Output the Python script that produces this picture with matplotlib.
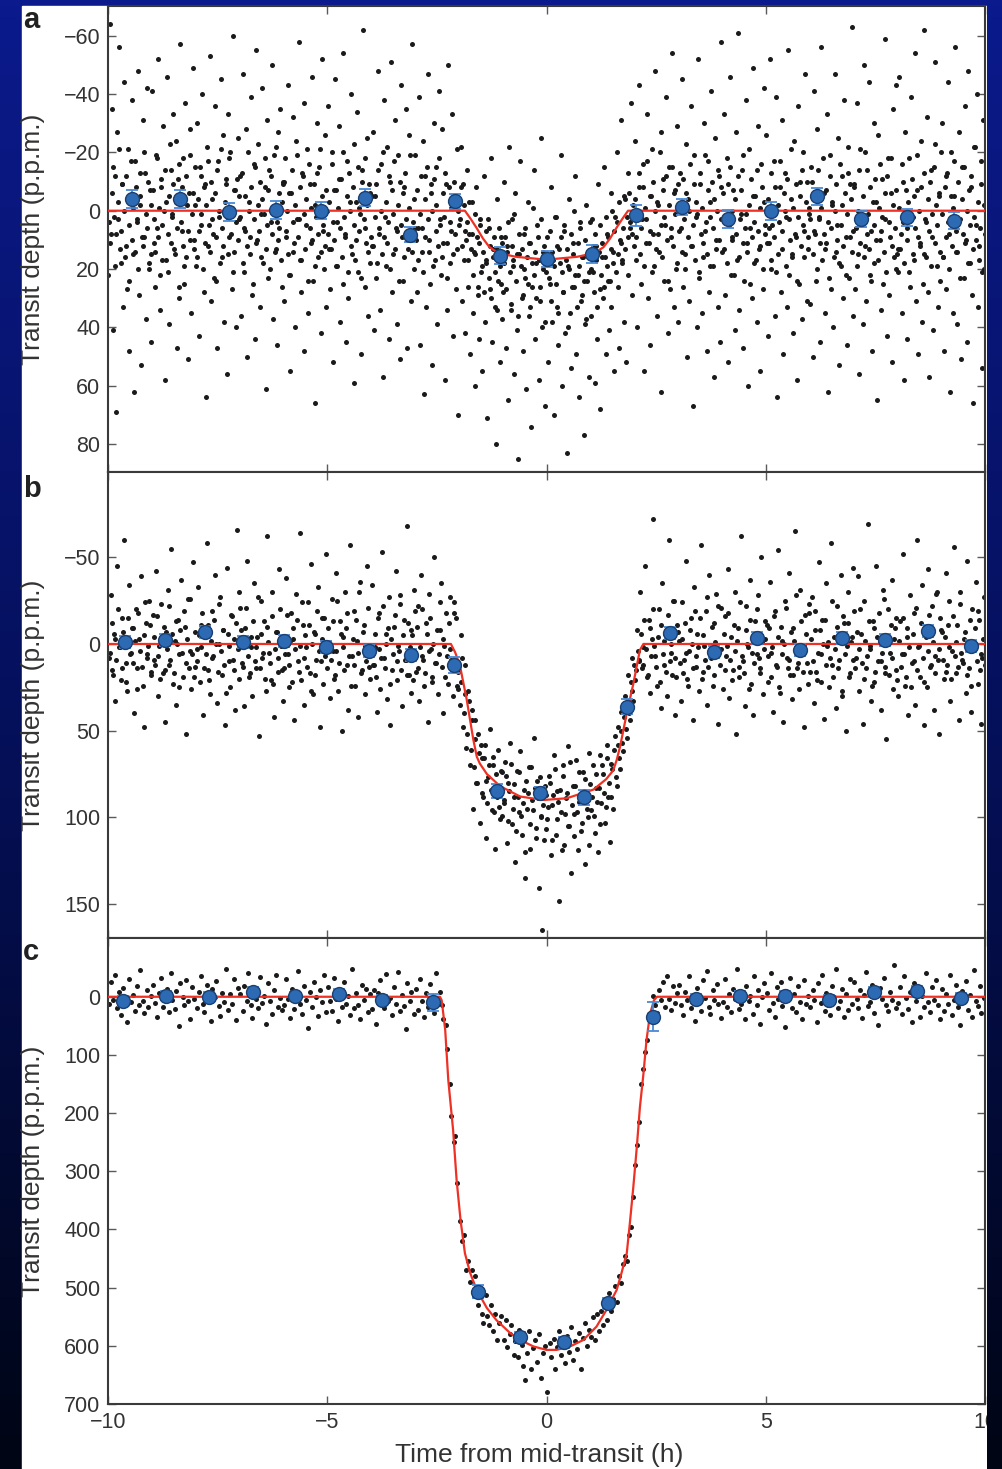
import numpy as np
import matplotlib
matplotlib.use("Agg")
import matplotlib.pyplot as plt
from matplotlib.patches import Rectangle
from matplotlib.colors import LinearSegmentedColormap

# ---------------- data (time from mid-transit in h, depth in p.p.m.) ----------------
a_points = [
(-9.99,22),(-9.96,-64),(-9.93,8),(-9.90,-35),(-9.88,41),(-9.85,-12),(-9.82,69),(-9.79,-27),(-9.77,3),(-9.74,-56),(-9.71,18),(-9.68,-9),(-9.65,33),(-9.63,-44),(-9.60,12),(-9.57,27),(-9.54,-21),(-9.52,48),(-9.49,-5),(-9.46,-38),(-9.43,15),(-9.40,62),(-9.38,-17),(-9.35,4),(-9.32,-48),(-9.29,29),(-9.27,-2),(-9.24,53),(-9.21,-31),(-9.18,9),(-9.15,-13),(-9.13,37),(-9.10,-42),(-9.07,20),(-9.04,-7),(-9.02,45),
(-8.99,-41),(-8.96,11),(-8.93,26),(-8.90,-19),(-8.88,6),(-8.85,-52),(-8.82,34),(-8.79,-8),(-8.77,17),(-8.74,-29),(-8.71,58),(-8.68,-3),(-8.65,-46),(-8.63,21),(-8.60,39),(-8.57,-14),(-8.54,1),(-8.52,-33),(-8.49,13),(-8.46,-24),(-8.43,47),(-8.40,-11),(-8.38,30),(-8.35,-57),(-8.32,7),(-8.29,-18),(-8.27,25),(-8.24,-37),(-8.21,16),(-8.18,51),(-8.15,-6),(-8.13,-28),(-8.10,35),(-8.07,-49),(-8.04,10),(-8.02,-2),
(-7.99,19),(-7.96,-30),(-7.93,43),(-7.90,-15),(-7.88,5),(-7.85,-40),(-7.82,28),(-7.79,-9),(-7.77,64),(-7.74,-22),(-7.71,12),(-7.68,-53),(-7.65,31),(-7.63,-4),(-7.60,8),(-7.57,-36),(-7.54,24),(-7.52,47),(-7.49,-17),(-7.46,2),(-7.43,-45),(-7.40,16),(-7.38,-26),(-7.35,38),(-7.32,-11),(-7.29,56),(-7.27,-33),(-7.24,9),(-7.21,-20),(-7.18,27),(-7.15,-60),(-7.13,14),(-7.10,-7),(-7.07,40),(-7.04,-25),(-7.02,3),
(-6.99,-12),(-6.96,36),(-6.93,-47),(-6.90,21),(-6.88,7),(-6.85,-28),(-6.82,50),(-6.79,-3),(-6.77,15),(-6.74,-39),(-6.71,29),(-6.68,-16),(-6.65,44),(-6.63,-55),(-6.60,10),(-6.57,-23),(-6.54,33),(-6.52,1),(-6.49,-42),(-6.46,18),(-6.43,-8),(-6.40,61),(-6.38,-31),(-6.35,23),(-6.32,-14),(-6.29,4),(-6.27,-50),(-6.24,37),(-6.21,-19),(-6.18,13),(-6.15,46),(-6.13,-27),(-6.10,6),(-6.07,-35),(-6.04,26),(-6.02,-10),
(-5.99,31),(-5.96,-18),(-5.93,9),(-5.90,-43),(-5.88,22),(-5.85,55),(-5.82,-6),(-5.79,-32),(-5.77,14),(-5.74,40),(-5.71,-24),(-5.68,3),(-5.65,-58),(-5.63,17),(-5.60,28),(-5.57,-13),(-5.54,48),(-5.52,-37),(-5.49,5),(-5.46,-21),(-5.43,35),(-5.40,-9),(-5.38,11),(-5.35,-46),(-5.32,24),(-5.29,-2),(-5.27,66),(-5.24,-30),(-5.21,16),(-5.18,-15),(-5.15,42),(-5.13,-52),(-5.10,7),(-5.07,20),(-5.04,-26),(-5.02,33),
(-4.99,-36),(-4.96,13),(-4.93,27),(-4.90,-20),(-4.88,52),(-4.85,-7),(-4.82,-45),(-4.79,19),(-4.77,4),(-4.74,-29),(-4.71,38),(-4.68,-11),(-4.65,25),(-4.63,-54),(-4.60,8),(-4.57,45),(-4.54,-17),(-4.52,30),(-4.49,-3),(-4.46,-40),(-4.43,15),(-4.40,59),(-4.38,-23),(-4.35,10),(-4.32,-34),(-4.29,21),(-4.27,-1),(-4.24,49),(-4.21,-14),(-4.18,-62),(-4.15,26),(-4.13,6),(-4.10,-25),(-4.07,36),(-4.04,-9),(-4.02,18),
(-3.99,12),(-3.96,-27),(-3.93,41),(-3.90,-5),(-3.88,23),(-3.85,-48),(-3.82,8),(-3.79,34),(-3.77,-16),(-3.74,57),(-3.71,-38),(-3.68,2),(-3.65,19),(-3.63,-22),(-3.60,44),(-3.57,-10),(-3.54,-51),(-3.52,28),(-3.49,15),(-3.46,-31),(-3.43,6),(-3.40,39),(-3.38,-19),(-3.35,51),(-3.32,-43),(-3.29,9),(-3.27,24),(-3.24,-8),(-3.21,-35),(-3.18,47),(-3.15,13),(-3.13,-26),(-3.10,31),(-3.07,-57),(-3.04,4),(-3.02,20),
(-2.99,-19),(-2.96,28),(-2.93,6),(-2.90,-39),(-2.88,46),(-2.85,14),(-2.82,-24),(-2.79,63),(-2.77,-12),(-2.74,33),(-2.71,-47),(-2.68,10),(-2.65,25),(-2.63,-6),(-2.60,53),(-2.57,-30),(-2.54,17),(-2.52,-15),(-2.49,39),(-2.46,-41),(-2.43,3),(-2.40,22),(-2.38,-28),(-2.35,11),(-2.32,58),(-2.29,-9),(-2.27,34),(-2.24,-50),(-2.21,18),(-2.18,7),(-2.15,-33),(-2.13,43),(-2.10,-4),(-2.07,27),(-2.04,-21),(-2.02,70),
(-1.99,5),(-1.96,-22),(-1.93,31),(-1.90,-9),(-1.88,17),(-1.85,42),(-1.82,-14),(-1.79,26),(-1.77,8),(-1.74,49),(-1.71,-3),(-1.68,35),(-1.65,14),(-1.63,60),(-1.60,-8),(-1.57,29),(-1.54,44),(-1.52,3),(-1.49,21),(-1.46,55),(-1.43,-12),(-1.40,38),(-1.38,17),(-1.35,71),(-1.32,6),(-1.29,27),(-1.27,-18),(-1.24,45),(-1.21,13),(-1.18,33),(-1.15,80),(-1.13,-4),(-1.10,24),(-1.07,52),(-1.04,9),(-1.02,37),
(-0.99,28),(-0.96,-10),(-0.93,47),(-0.90,12),(-0.88,65),(-0.85,-22),(-0.82,34),(-0.79,3),(-0.77,19),(-0.74,56),(-0.71,-6),(-0.68,41),(-0.65,85),(-0.63,15),(-0.60,-17),(-0.57,30),(-0.54,48),(-0.52,8),(-0.49,23),(-0.46,61),(-0.43,-3),(-0.40,36),(-0.38,11),(-0.35,74),(-0.32,26),(-0.29,-14),(-0.27,44),(-0.24,18),(-0.21,5),(-0.18,58),(-0.15,31),(-0.13,-25),(-0.10,40),(-0.07,14),(-0.04,67),(-0.02,21),
(0.01,9),(0.04,52),(0.07,25),(0.10,-8),(0.12,38),(0.15,17),(0.18,70),(0.21,2),(0.23,33),(0.26,46),(0.29,13),(0.32,-19),(0.35,60),(0.37,28),(0.40,7),(0.43,42),(0.46,83),(0.48,19),(0.51,-4),(0.54,35),(0.57,54),(0.60,11),(0.62,26),(0.65,-12),(0.68,49),(0.71,22),(0.73,64),(0.76,4),(0.79,31),(0.82,16),(0.85,77),(0.87,39),(0.90,-2),(0.93,24),(0.96,57),(0.98,14),
(1.01,36),(1.04,3),(1.07,21),(1.10,59),(1.12,12),(1.15,44),(1.18,-9),(1.21,27),(1.23,68),(1.26,16),(1.29,30),(1.32,-15),(1.35,49),(1.37,8),(1.40,24),(1.43,41),(1.46,-6),(1.48,33),(1.51,14),(1.54,55),(1.57,2),(1.60,-20),(1.62,26),(1.65,47),(1.68,10),(1.71,-31),(1.73,18),(1.76,38),(1.79,-4),(1.82,52),(1.85,-13),(1.87,22),(1.90,6),(1.93,-37),(1.96,29),(1.98,1),
(2.01,-24),(2.04,17),(2.07,40),(2.10,-8),(2.12,-43),(2.15,25),(2.18,3),(2.21,-16),(2.23,55),(2.26,11),(2.29,-33),(2.32,30),(2.35,-5),(2.37,46),(2.40,-21),(2.43,8),(2.46,19),(2.48,-48),(2.51,36),(2.54,-2),(2.57,14),(2.60,-27),(2.62,62),(2.65,-11),(2.68,24),(2.71,5),(2.73,-39),(2.76,42),(2.79,-15),(2.82,27),(2.85,9),(2.87,-54),(2.90,33),(2.93,-7),(2.96,20),(2.98,-29),
(3.01,38),(3.04,-13),(3.07,6),(3.10,-45),(3.12,26),(3.15,15),(3.18,-23),(3.21,50),(3.23,-4),(3.26,31),(3.29,-36),(3.32,12),(3.35,67),(3.37,-19),(3.40,2),(3.43,40),(3.46,-52),(3.48,21),(3.51,-9),(3.54,35),(3.57,16),(3.60,-30),(3.62,7),(3.65,48),(3.68,-17),(3.71,28),(3.73,-3),(3.76,-41),(3.79,19),(3.82,57),(3.85,-25),(3.87,10),(3.90,33),(3.93,-12),(3.96,45),(3.98,-58),
(4.01,14),(4.04,-33),(4.07,29),(4.10,4),(4.12,-18),(4.15,52),(4.18,-46),(4.21,22),(4.23,9),(4.26,-7),(4.29,41),(4.32,-27),(4.35,17),(4.37,-61),(4.40,34),(4.43,1),(4.46,-14),(4.48,47),(4.51,24),(4.54,-38),(4.57,11),(4.60,60),(4.62,-21),(4.65,6),(4.68,30),(4.71,-49),(4.73,18),(4.76,-5),(4.79,38),(4.82,-29),(4.85,13),(4.87,55),(4.90,-16),(4.93,27),(4.96,-42),(4.98,8),
(5.01,-26),(5.04,43),(5.07,11),(5.10,-52),(5.12,20),(5.15,5),(5.18,-17),(5.21,36),(5.23,-39),(5.26,64),(5.29,15),(5.32,-8),(5.35,28),(5.37,-31),(5.40,49),(5.43,-13),(5.46,2),(5.48,33),(5.51,-55),(5.54,22),(5.57,-4),(5.60,16),(5.62,42),(5.65,-24),(5.68,9),(5.71,58),(5.73,-36),(5.76,25),(5.79,-10),(5.82,37),(5.85,-20),(5.87,7),(5.90,-47),(5.93,31),(5.96,13),(5.98,-1),
(6.01,32),(6.04,-15),(6.07,50),(6.10,-41),(6.12,8),(6.15,24),(6.18,-28),(6.21,3),(6.23,45),(6.26,-56),(6.29,17),(6.32,-6),(6.35,35),(6.37,11),(6.40,-33),(6.43,62),(6.46,-19),(6.48,27),(6.51,-2),(6.54,40),(6.57,-47),(6.60,14),(6.62,5),(6.65,-25),(6.68,53),(6.71,19),(6.73,-12),(6.76,30),(6.79,-38),(6.82,9),(6.85,46),(6.87,-22),(6.90,23),(6.93,-9),(6.96,-63),(6.98,36),
(7.01,-8),(7.04,27),(7.07,-37),(7.10,15),(7.12,56),(7.15,-21),(7.18,4),(7.21,39),(7.23,-50),(7.26,12),(7.29,31),(7.32,-14),(7.35,-44),(7.37,22),(7.40,7),(7.43,48),(7.46,-30),(7.48,18),(7.51,-3),(7.54,65),(7.57,-26),(7.60,10),(7.62,34),(7.65,-11),(7.68,25),(7.71,-59),(7.73,3),(7.76,43),(7.79,-18),(7.82,29),(7.85,-6),(7.87,52),(7.90,-35),(7.93,16),(7.96,20),(7.98,-43),
(8.01,21),(8.04,-46),(8.07,13),(8.10,35),(8.12,-10),(8.15,58),(8.18,-27),(8.21,6),(8.23,44),(8.26,-18),(8.29,26),(8.32,-39),(8.35,2),(8.37,17),(8.40,-54),(8.43,31),(8.46,-7),(8.48,49),(8.51,11),(8.54,-24),(8.57,38),(8.60,-62),(8.62,15),(8.65,4),(8.68,-32),(8.71,28),(8.73,57),(8.76,-14),(8.79,9),(8.82,41),(8.85,-23),(8.87,-51),(8.90,19),(8.93,33),(8.96,-5),(8.98,24),
(9.01,-30),(9.04,16),(9.07,48),(9.10,-12),(9.12,27),(9.15,-44),(9.18,8),(9.21,62),(9.23,-20),(9.26,35),(9.29,-5),(9.32,-56),(9.35,14),(9.37,39),(9.40,-27),(9.43,3),(9.46,51),(9.48,-15),(9.51,23),(9.54,-36),(9.57,10),(9.60,45),(9.62,-48),(9.65,18),(9.68,-8),(9.71,29),(9.73,66),(9.76,-22),(9.79,5),(9.82,-40),(9.85,33),(9.87,12),(9.90,-17),(9.93,54),(9.96,-31),(9.98,20),
]

a_points_2 = [
(-9.98,4),(-9.95,11),(-9.92,-6),(-9.89,-15),(-9.87,2),(-9.84,19),(-9.81,8),(-9.78,-3),(-9.76,-21),(-9.73,13),(-9.70,7),(-9.67,-9),(-9.64,0),(-9.62,16),(-9.59,-12),(-9.56,-4),(-9.53,24),(-9.51,5),(-9.48,-17),(-9.45,10),(-9.42,-1),(-9.39,14),(-9.37,-8),(-9.34,3),(-9.31,20),(-9.28,-13),(-9.26,-5),(-9.23,9),(-9.20,12),(-9.17,-20),(-9.14,1),(-9.12,6),(-9.09,-10),(-9.06,18),(-9.03,-2),(-9.01,15),
(-8.98,-7),(-8.95,3),(-8.92,14),(-8.89,-18),(-8.87,9),(-8.84,-1),(-8.81,22),(-8.78,-11),(-8.76,5),(-8.73,0),(-8.70,-14),(-8.67,17),(-8.64,8),(-8.62,-5),(-8.59,-23),(-8.56,11),(-8.53,2),(-8.51,-9),(-8.48,15),(-8.45,-3),(-8.42,6),(-8.39,26),(-8.37,-16),(-8.34,4),(-8.31,-8),(-8.28,12),(-8.26,19),(-8.23,-12),(-8.20,-2),(-8.17,7),(-8.14,-19),(-8.12,10),(-8.09,1),(-8.06,-6),(-8.03,13),(-8.01,-15),
(-7.98,16),(-7.95,-4),(-7.92,7),(-7.89,-12),(-7.87,1),(-7.84,20),(-7.81,-8),(-7.78,11),(-7.76,-2),(-7.73,-17),(-7.70,5),(-7.67,14),(-7.64,-10),(-7.62,3),(-7.59,23),(-7.56,-6),(-7.53,9),(-7.51,-14),(-7.48,0),(-7.45,18),(-7.42,-21),(-7.39,6),(-7.37,12),(-7.34,-3),(-7.31,-9),(-7.28,2),(-7.26,15),(-7.23,-18),(-7.20,8),(-7.17,-1),(-7.14,21),(-7.12,-7),(-7.09,4),(-7.06,-11),(-7.03,10),(-7.01,-5),
(-6.98,2),(-6.95,-13),(-6.92,18),(-6.89,6),(-6.87,-5),(-6.84,12),(-6.81,-20),(-6.78,0),(-6.76,9),(-6.73,-8),(-6.70,25),(-6.67,3),(-6.64,-15),(-6.62,11),(-6.59,-2),(-6.56,7),(-6.53,-10),(-6.51,16),(-6.48,-4),(-6.45,1),(-6.42,-18),(-6.39,13),(-6.37,5),(-6.34,-7),(-6.31,20),(-6.28,-12),(-6.26,8),(-6.23,-1),(-6.20,14),(-6.17,-22),(-6.14,4),(-6.12,10),(-6.09,-6),(-6.06,17),(-6.03,-3),(-6.01,-9),
(-5.98,-10),(-5.95,7),(-5.92,0),(-5.89,15),(-5.87,-6),(-5.84,22),(-5.81,-14),(-5.78,4),(-5.76,11),(-5.73,-2),(-5.70,-19),(-5.67,9),(-5.64,3),(-5.62,-8),(-5.59,17),(-5.56,-12),(-5.53,1),(-5.51,13),(-5.48,-4),(-5.45,24),(-5.42,-16),(-5.39,6),(-5.37,-1),(-5.34,10),(-5.31,-9),(-5.28,19),(-5.26,2),(-5.23,-13),(-5.20,8),(-5.17,-21),(-5.14,14),(-5.12,-5),(-5.09,5),(-5.06,12),(-5.03,-7),(-5.01,0),
(-4.98,8),(-4.95,-3),(-4.92,13),(-4.89,-16),(-4.87,4),(-4.84,10),(-4.81,-7),(-4.78,19),(-4.76,-1),(-4.73,-11),(-4.70,6),(-4.67,16),(-4.64,-20),(-4.62,2),(-4.59,9),(-4.56,-5),(-4.53,21),(-4.51,-13),(-4.48,0),(-4.45,12),(-4.42,-8),(-4.39,5),(-4.37,17),(-4.34,-3),(-4.31,-15),(-4.28,7),(-4.26,1),(-4.23,23),(-4.20,-10),(-4.17,3),(-4.14,-18),(-4.12,11),(-4.09,-2),(-4.06,14),(-4.03,-6),(-4.01,9),
(-3.98,-5),(-3.95,12),(-3.92,2),(-3.89,-9),(-3.87,18),(-3.84,-14),(-3.81,6),(-3.78,0),(-3.76,15),(-3.73,-20),(-3.70,9),(-3.67,-3),(-3.64,11),(-3.62,4),(-3.59,-12),(-3.56,20),(-3.53,-7),(-3.51,1),(-3.48,-17),(-3.45,13),(-3.42,7),(-3.39,-2),(-3.37,24),(-3.34,-10),(-3.31,5),(-3.28,-6),(-3.26,16),(-3.23,-13),(-3.20,3),(-3.17,10),(-3.14,-1),(-3.12,-19),(-3.09,8),(-3.06,14),(-3.03,-4),(-3.01,6),
(-2.98,10),(-2.95,-7),(-2.92,17),(-2.89,1),(-2.87,-12),(-2.84,6),(-2.81,21),(-2.78,-4),(-2.76,9),(-2.73,-15),(-2.70,3),(-2.67,14),(-2.64,-9),(-2.62,0),(-2.59,19),(-2.56,-11),(-2.53,7),(-2.51,-2),(-2.48,12),(-2.45,-18),(-2.42,5),(-2.39,16),(-2.37,-6),(-2.34,2),(-2.31,-13),(-2.28,11),(-2.26,23),(-2.23,-8),(-2.20,4),(-2.17,-1),(-2.14,15),(-2.12,-10),(-2.09,8),(-2.06,-3),(-2.03,13),(-2.01,0),
(-1.98,3),(-1.95,-8),(-1.92,12),(-1.89,-2),(-1.87,7),(-1.84,10),(-1.81,4),(-1.78,17),(-1.76,-3),(-1.73,13),(-1.70,8),(-1.67,22),(-1.64,1),(-1.62,15),(-1.59,9),(-1.56,26),(-1.53,11),(-1.51,5),(-1.48,19),(-1.45,14),(-1.42,28),(-1.39,7),(-1.37,18),(-1.34,3),(-1.31,23),(-1.28,12),(-1.26,30),(-1.23,16),(-1.20,9),(-1.17,21),(-1.14,13),(-1.12,34),(-1.09,6),(-1.06,19),(-1.03,25),(-1.01,11),
(-0.98,18),(-0.95,9),(-0.92,27),(-0.89,14),(-0.87,4),(-0.84,21),(-0.81,32),(-0.78,12),(-0.76,17),(-0.73,1),(-0.70,24),(-0.67,15),(-0.64,36),(-0.62,8),(-0.59,19),(-0.56,13),(-0.53,29),(-0.51,20),(-0.48,6),(-0.45,16),(-0.42,25),(-0.39,11),(-0.37,33),(-0.34,18),(-0.31,-1),(-0.28,22),(-0.26,14),(-0.23,30),(-0.20,9),(-0.17,17),(-0.14,26),(-0.12,3),(-0.09,20),(-0.06,12),(-0.03,38),(-0.01,15),
(0.02,16),(0.05,23),(0.08,7),(0.11,31),(0.13,14),(0.16,19),(0.19,2),(0.22,25),(0.24,12),(0.27,35),(0.30,18),(0.33,9),(0.36,21),(0.38,28),(0.41,5),(0.44,17),(0.47,13),(0.49,40),(0.52,20),(0.55,8),(0.58,26),(0.61,15),(0.63,0),(0.66,22),(0.69,33),(0.72,11),(0.74,19),(0.77,6),(0.80,29),(0.83,16),(0.86,24),(0.88,10),(0.91,37),(0.94,14),(0.97,21),(0.99,4),
(1.02,20),(1.05,12),(1.08,28),(1.11,8),(1.13,17),(1.16,33),(1.19,14),(1.22,5),(1.24,22),(1.27,11),(1.30,26),(1.33,16),(1.36,2),(1.38,19),(1.41,9),(1.44,24),(1.47,13),(1.49,0),(1.52,18),(1.55,7),(1.58,21),(1.61,4),(1.63,15),(1.66,-3),(1.69,11),(1.72,17),(1.74,6),(1.77,-5),(1.80,13),(1.83,2),(1.86,9),(1.88,-6),(1.91,4),(1.94,8),(1.97,-2),(1.99,12),
(2.02,-4),(2.05,9),(2.08,1),(2.11,-13),(2.13,15),(2.16,6),(2.19,-8),(2.22,19),(2.24,-1),(2.27,3),(2.30,-17),(2.33,11),(2.36,7),(2.38,-5),(2.41,21),(2.44,-10),(2.47,0),(2.49,13),(2.52,-3),(2.55,8),(2.58,-20),(2.61,5),(2.63,16),(2.66,-7),(2.69,2),(2.72,-12),(2.74,10),(2.77,24),(2.80,-2),(2.83,6),(2.86,-15),(2.88,12),(2.91,-6),(2.94,1),(2.97,18),(2.99,-9),
(3.02,7),(3.05,-2),(3.08,14),(3.11,-11),(3.13,3),(3.16,20),(3.19,-6),(3.22,9),(3.24,0),(3.27,-16),(3.30,12),(3.33,5),(3.36,-9),(3.38,17),(3.41,-3),(3.44,1),(3.47,23),(3.49,-13),(3.52,8),(3.55,-1),(3.58,11),(3.61,-19),(3.63,4),(3.66,15),(3.69,-7),(3.72,2),(3.74,19),(3.77,-10),(3.80,6),(3.83,-4),(3.86,13),(3.88,0),(3.91,-14),(3.94,10),(3.97,3),(3.99,-8),
(4.02,-6),(4.05,13),(4.08,2),(4.11,18),(4.13,-9),(4.16,5),(4.19,-15),(4.22,10),(4.24,0),(4.27,22),(4.30,-4),(4.33,8),(4.36,-12),(4.38,16),(4.41,3),(4.44,-7),(4.47,11),(4.49,-19),(4.52,6),(4.55,1),(4.58,14),(4.61,-2),(4.63,25),(4.66,-11),(4.69,9),(4.72,-5),(4.74,4),(4.77,17),(4.80,-14),(4.83,7),(4.86,-1),(4.88,12),(4.91,-8),(4.94,20),(4.97,-3),(4.99,5),
(5.02,11),(5.05,-4),(5.08,6),(5.11,-13),(5.13,17),(5.16,1),(5.19,9),(5.22,-8),(5.24,21),(5.27,-2),(5.30,4),(5.33,-17),(5.36,13),(5.38,7),(5.41,-6),(5.44,0),(5.47,19),(5.49,-11),(5.52,3),(5.55,10),(5.58,-21),(5.61,15),(5.63,-1),(5.66,8),(5.69,-9),(5.72,24),(5.74,2),(5.77,-5),(5.80,12),(5.83,-14),(5.86,5),(5.88,16),(5.91,-3),(5.94,-10),(5.97,9),(5.99,1),
(6.02,3),(6.05,-10),(6.08,15),(6.11,7),(6.13,-5),(6.16,20),(6.19,-14),(6.22,2),(6.24,11),(6.27,-1),(6.30,-18),(6.33,8),(6.36,13),(6.38,-7),(6.41,4),(6.44,23),(6.47,-12),(6.49,6),(6.52,-3),(6.55,16),(6.58,0),(6.61,-9),(6.63,10),(6.66,18),(6.69,-16),(6.72,5),(6.74,-2),(6.77,12),(6.80,-6),(6.83,22),(6.86,1),(6.88,-13),(6.91,9),(6.94,-4),(6.97,14),(6.99,7),
(7.02,-9),(7.05,6),(7.08,19),(7.11,0),(7.13,-14),(7.16,11),(7.19,3),(7.22,-5),(7.24,16),(7.27,-20),(7.30,8),(7.33,1),(7.36,13),(7.38,-8),(7.41,24),(7.44,-3),(7.47,5),(7.49,-11),(7.52,10),(7.55,17),(7.58,-1),(7.61,-16),(7.63,7),(7.66,2),(7.69,14),(7.72,-6),(7.74,21),(7.77,-12),(7.80,4),(7.83,9),(7.86,-18),(7.88,12),(7.91,-2),(7.94,6),(7.97,-7),(7.99,15),
(8.02,13),(8.05,-1),(8.08,8),(8.11,-16),(8.13,4),(8.16,18),(8.19,-7),(8.22,10),(8.24,-3),(8.27,21),(8.30,2),(8.33,-11),(8.36,15),(8.38,-5),(8.41,6),(8.44,-19),(8.47,9),(8.49,0),(8.52,12),(8.55,-8),(8.58,25),(8.61,-13),(8.63,3),(8.66,16),(8.69,-4),(8.72,7),(8.74,-10),(8.77,19),(8.80,1),(8.83,-15),(8.86,11),(8.88,-2),(8.91,5),(8.94,-6),(8.97,14),(8.99,-20),
(9.02,1),(9.05,16),(9.08,-8),(9.11,9),(9.13,-13),(9.16,4),(9.19,20),(9.22,-5),(9.24,12),(9.27,-1),(9.30,-17),(9.33,7),(9.36,14),(9.38,-10),(9.41,3),(9.44,23),(9.47,-4),(9.49,8),(9.52,-15),(9.55,11),(9.58,0),(9.61,18),(9.63,-7),(9.66,5),(9.69,-12),(9.72,13),(9.74,2),(9.77,-22),(9.80,10),(9.83,-3),(9.86,17),(9.88,6),(9.91,-9),(9.94,21),(9.97,-2),(9.99,8),
]

b_points = [
(-9.98,8),(-9.94,-28),(-9.90,15),(-9.87,-6),(-9.83,33),(-9.79,-45),(-9.75,2),(-9.71,21),(-9.67,-15),(-9.63,-60),(-9.60,11),(-9.56,27),(-9.52,-34),(-9.48,5),(-9.44,-9),(-9.40,40),(-9.37,-20),(-9.33,14),(-9.29,-3),(-9.25,-39),(-9.21,24),(-9.17,48),(-9.13,-12),(-9.10,6),(-9.06,-25),(-9.02,18),
(-8.98,-17),(-8.94,9),(-8.90,-42),(-8.87,30),(-8.83,1),(-8.79,-23),(-8.75,17),(-8.71,45),(-8.67,-7),(-8.63,-31),(-8.60,12),(-8.56,-55),(-8.52,23),(-8.48,-2),(-8.44,35),(-8.40,-14),(-8.37,6),(-8.33,-37),(-8.29,19),(-8.25,-10),(-8.21,52),(-8.17,-26),(-8.13,4),(-8.10,26),(-8.06,-47),(-8.02,13),
(-7.98,3),(-7.94,-33),(-7.90,22),(-7.87,-11),(-7.83,41),(-7.79,-5),(-7.75,-58),(-7.71,15),(-7.67,29),(-7.63,-19),(-7.60,7),(-7.56,-40),(-7.52,34),(-7.48,0),(-7.44,-27),(-7.40,18),(-7.37,-8),(-7.33,47),(-7.29,-44),(-7.25,10),(-7.21,25),(-7.17,-16),(-7.13,-3),(-7.10,38),(-7.06,-66),(-7.02,20),
(-6.98,-21),(-6.94,11),(-6.90,36),(-6.87,-9),(-6.83,-48),(-6.79,19),(-6.75,2),(-6.71,30),(-6.67,-35),(-6.63,14),(-6.60,-4),(-6.56,53),(-6.52,-25),(-6.48,8),(-6.44,-13),(-6.40,27),(-6.37,-62),(-6.33,5),(-6.29,21),(-6.25,-30),(-6.21,42),(-6.17,-7),(-6.13,16),(-6.10,-43),(-6.06,1),(-6.02,33),
(-5.98,14),(-5.94,-38),(-5.90,6),(-5.87,25),(-5.83,-18),(-5.79,-3),(-5.75,44),(-5.71,-29),(-5.67,10),(-5.63,-64),(-5.60,21),(-5.56,-11),(-5.52,35),(-5.48,2),(-5.44,-24),(-5.40,17),(-5.37,-46),(-5.33,29),(-5.29,-6),(-5.25,9),(-5.21,-33),(-5.17,48),(-5.13,-15),(-5.10,23),(-5.06,-1),(-5.02,-52),
(-4.98,-9),(-4.94,31),(-4.90,-26),(-4.87,4),(-4.83,18),(-4.79,-41),(-4.75,27),(-4.71,-13),(-4.67,50),(-4.63,-4),(-4.60,-30),(-4.56,12),(-4.52,38),(-4.48,-57),(-4.44,7),(-4.40,-19),(-4.37,24),(-4.33,-2),(-4.29,42),(-4.25,-36),(-4.21,15),(-4.17,-11),(-4.13,29),(-4.10,-45),(-4.06,5),(-4.02,20),
(-3.98,-34),(-3.94,12),(-3.90,2),(-3.87,39),(-3.83,-18),(-3.79,26),(-3.75,-53),(-3.71,8),(-3.67,-6),(-3.63,32),(-3.60,-27),(-3.56,47),(-3.52,15),(-3.48,-10),(-3.44,-42),(-3.40,21),(-3.37,4),(-3.33,-23),(-3.29,36),(-3.25,-14),(-3.21,9),(-3.17,-68),(-3.13,18),(-3.10,28),(-3.06,-5),(-3.02,-31),
(-2.98,16),(-2.94,-22),(-2.90,33),(-2.87,-40),(-2.83,7),(-2.79,24),(-2.75,-12),(-2.71,45),(-2.67,-29),(-2.63,3),(-2.60,19),(-2.56,-50),(-2.52,11),(-2.48,29),(-2.44,-8),(-2.40,-35),(-2.37,40),(-2.33,1),(-2.29,-18),(-2.25,23),(-2.21,-27),(-2.17,9),(-2.13,30),(-2.10,-24),(-2.06,-15),(-2.02,26),
(-1.98,35),(-1.94,-5),(-1.90,48),(-1.87,12),(-1.83,60),(-1.79,27),(-1.75,70),(-1.71,38),(-1.67,95),(-1.63,44),(-1.60,80),(-1.56,52),(-1.52,103),(-1.48,66),(-1.44,88),(-1.40,58),(-1.37,112),(-1.33,77),(-1.29,49),(-1.25,96),(-1.21,70),(-1.17,118),(-1.13,85),(-1.10,61),(-1.06,101),(-1.02,74),
(-0.98,92),(-0.94,68),(-0.90,115),(-0.87,80),(-0.83,57),(-0.79,104),(-0.75,88),(-0.71,126),(-0.67,73),(-0.63,97),(-0.60,62),(-0.56,110),(-0.52,84),(-0.48,135),(-0.44,95),(-0.40,71),(-0.37,118),(-0.33,90),(-0.29,54),(-0.25,106),(-0.21,79),(-0.17,141),(-0.13,99),(-0.10,165),(-0.06,113),(-0.02,87),
(0.02,101),(0.06,76),(0.10,122),(0.13,93),(0.17,64),(0.21,110),(0.25,85),(0.29,148),(0.33,97),(0.37,70),(0.40,116),(0.44,89),(0.48,59),(0.52,105),(0.56,132),(0.60,82),(0.63,98),(0.67,67),(0.71,119),(0.75,91),(0.79,108),(0.83,74),(0.87,127),(0.90,86),(0.94,100),(0.98,63),
(1.02,96),(1.06,70),(1.10,109),(1.13,83),(1.17,120),(1.21,64),(1.25,92),(1.29,75),(1.33,103),(1.37,58),(1.40,88),(1.44,114),(1.48,69),(1.52,95),(1.56,53),(1.60,82),(1.63,48),(1.67,72),(1.71,39),(1.75,62),(1.79,30),(1.83,54),(1.87,18),(1.90,44),(1.94,8),(1.98,33),
(2.02,21),(2.06,-8),(2.10,10),(2.13,-30),(2.17,14),(2.21,2),(2.25,-45),(2.29,19),(2.33,-14),(2.37,28),(2.40,-3),(2.44,-72),(2.48,7),(2.52,24),(2.56,-20),(2.60,37),(2.63,-35),(2.67,12),(2.71,-6),(2.75,30),(2.79,-60),(2.83,5),(2.87,18),(2.90,-25),(2.94,41),(2.98,-11),
(3.02,-2),(3.06,33),(3.10,-24),(3.13,9),(3.17,-48),(3.21,20),(3.25,4),(3.29,-15),(3.33,44),(3.37,-33),(3.40,13),(3.44,-6),(3.48,27),(3.52,-57),(3.56,16),(3.60,1),(3.63,-19),(3.67,35),(3.71,-40),(3.75,8),(3.79,24),(3.83,-12),(3.87,-29),(3.90,46),(3.94,3),(3.98,-21),
(4.02,26),(4.06,-16),(4.10,7),(4.13,-43),(4.17,31),(4.21,-4),(4.25,15),(4.29,-30),(4.33,52),(4.37,-9),(4.40,19),(4.44,-62),(4.48,10),(4.52,36),(4.56,-22),(4.60,2),(4.63,-37),(4.67,23),(4.71,41),(4.75,-13),(4.79,6),(4.83,-28),(4.87,17),(4.90,-50),(4.94,29),(4.98,-3),
(5.02,-11),(5.06,22),(5.10,-36),(5.13,5),(5.17,39),(5.21,-19),(5.25,13),(5.29,-54),(5.33,28),(5.37,-2),(5.40,45),(5.44,-25),(5.48,8),(5.52,-41),(5.56,18),(5.60,32),(5.63,-9),(5.67,-65),(5.71,14),(5.75,26),(5.79,-31),(5.83,3),(5.87,48),(5.90,-17),(5.94,11),(5.98,-23),
(6.02,16),(6.06,-27),(6.10,34),(6.13,-8),(6.17,21),(6.21,-47),(6.25,6),(6.29,-14),(6.33,43),(6.37,-35),(6.40,1),(6.44,25),(6.48,-58),(6.52,12),(6.56,-4),(6.60,37),(6.63,-22),(6.67,9),(6.71,-40),(6.75,30),(6.79,-12),(6.83,50),(6.87,-30),(6.90,19),(6.94,-1),(6.98,-44),
(7.02,-19),(7.06,8),(7.10,-39),(7.13,27),(7.17,-6),(7.21,46),(7.25,-25),(7.29,14),(7.33,-69),(7.37,3),(7.40,33),(7.44,-13),(7.48,22),(7.52,-45),(7.56,10),(7.60,-2),(7.63,38),(7.67,-31),(7.71,17),(7.75,55),(7.79,-20),(7.83,5),(7.87,-37),(7.90,26),(7.94,-9),(7.98,15),
(8.02,30),(8.06,-13),(8.10,6),(8.13,-52),(8.17,24),(8.21,-4),(8.25,41),(8.29,-28),(8.33,11),(8.37,-18),(8.40,35),(8.44,-60),(8.48,2),(8.52,19),(8.56,-34),(8.60,47),(8.63,-8),(8.67,25),(8.71,-43),(8.75,13),(8.79,-22),(8.83,38),(8.87,7),(8.90,-30),(8.94,52),(8.98,-15),
(9.02,-7),(9.06,20),(9.10,-41),(9.13,12),(9.17,-25),(9.21,33),(9.25,4),(9.29,-56),(9.33,17),(9.37,-11),(9.40,44),(9.44,-30),(9.48,9),(9.52,-3),(9.56,28),(9.60,-48),(9.63,14),(9.67,39),(9.71,-20),(9.75,1),(9.79,-36),(9.83,23),(9.87,-14),(9.90,46),(9.94,8),(9.98,-27),
]

b_points_2 = [
(-9.96,5),(-9.92,-12),(-9.88,18),(-9.85,-3),(-9.81,9),(-9.77,-20),(-9.73,2),(-9.69,14),(-9.65,-7),(-9.62,0),(-9.58,22),(-9.54,-15),(-9.50,6),(-9.46,-9),(-9.42,11),(-9.38,-2),(-9.35,26),(-9.31,-18),(-9.27,4),(-9.23,13),(-9.19,-5),(-9.15,-24),(-9.12,8),(-9.08,1),(-9.04,-11),(-9.01,16),
(-8.96,-4),(-8.92,12),(-8.88,-16),(-8.85,7),(-8.81,20),(-8.77,-1),(-8.73,-10),(-8.69,15),(-8.65,3),(-8.62,-22),(-8.58,9),(-8.54,-6),(-8.50,17),(-8.46,-13),(-8.42,0),(-8.38,25),(-8.35,-8),(-8.31,5),(-8.27,-19),(-8.23,11),(-8.19,-3),(-8.15,14),(-8.12,-26),(-8.08,6),(-8.04,19),(-8.01,-7),
(-7.96,10),(-7.92,-5),(-7.88,2),(-7.85,-18),(-7.81,14),(-7.77,6),(-7.73,-11),(-7.69,21),(-7.65,-2),(-7.62,8),(-7.58,-14),(-7.54,0),(-7.50,16),(-7.46,-23),(-7.42,4),(-7.38,-8),(-7.35,12),(-7.31,28),(-7.27,-6),(-7.23,1),(-7.19,-17),(-7.15,9),(-7.12,15),(-7.08,-12),(-7.04,3),(-7.01,-30),
(-6.96,-8),(-6.92,13),(-6.88,1),(-6.85,-21),(-6.81,7),(-6.77,17),(-6.73,-4),(-6.69,-13),(-6.65,10),(-6.62,2),(-6.58,-27),(-6.54,14),(-6.50,-6),(-6.46,5),(-6.42,20),(-6.38,-10),(-6.35,-1),(-6.31,11),(-6.27,-16),(-6.23,23),(-6.19,3),(-6.15,-7),(-6.12,8),(-6.08,-20),(-6.04,15),(-6.01,0),
(-5.96,6),(-5.92,-17),(-5.88,12),(-5.85,-2),(-5.81,22),(-5.77,-9),(-5.73,3),(-5.69,-14),(-5.65,16),(-5.62,1),(-5.58,-24),(-5.54,8),(-5.50,-5),(-5.46,13),(-5.42,-11),(-5.38,27),(-5.35,0),(-5.31,-7),(-5.27,18),(-5.23,-19),(-5.19,4),(-5.15,10),(-5.12,-3),(-5.08,-15),(-5.04,7),(-5.01,14),
(-4.96,-1),(-4.92,9),(-4.88,-13),(-4.85,20),(-4.81,4),(-4.77,-25),(-4.73,11),(-4.69,-6),(-4.65,2),(-4.62,15),(-4.58,-9),(-4.54,-18),(-4.50,7),(-4.46,24),(-4.42,-3),(-4.38,12),(-4.35,-14),(-4.31,5),(-4.27,-30),(-4.23,17),(-4.19,-7),(-4.15,1),(-4.12,10),(-4.08,-21),(-4.04,13),(-4.01,3),
(-3.96,12),(-3.92,-6),(-3.88,19),(-3.85,-15),(-3.81,3),(-3.77,8),(-3.73,-22),(-3.69,14),(-3.65,0),(-3.62,-9),(-3.58,23),(-3.54,-3),(-3.50,6),(-3.46,-17),(-3.42,10),(-3.38,1),(-3.35,-28),(-3.31,15),(-3.27,-5),(-3.23,9),(-3.19,18),(-3.15,-12),(-3.12,2),(-3.08,-8),(-3.04,21),(-3.01,-19),
(-2.96,-10),(-2.92,14),(-2.88,2),(-2.85,-20),(-2.81,9),(-2.77,17),(-2.73,-6),(-2.69,4),(-2.65,-15),(-2.62,22),(-2.58,0),(-2.54,11),(-2.50,-8),(-2.46,6),(-2.42,-24),(-2.38,13),(-2.35,-3),(-2.31,19),(-2.27,7),(-2.23,-12),(-2.19,3),(-2.15,15),(-2.12,-18),(-2.08,10),(-2.04,24),(-2.01,16),
(-1.96,22),(-1.92,8),(-1.88,40),(-1.85,29),(-1.81,52),(-1.77,33),(-1.73,61),(-1.69,44),(-1.65,71),(-1.62,55),(-1.58,80),(-1.54,63),(-1.50,58),(-1.46,86),(-1.42,66),(-1.38,79),(-1.35,92),(-1.31,70),(-1.27,84),(-1.23,65),(-1.19,97),(-1.15,75),(-1.12,88),(-1.08,94),(-1.04,73),(-1.01,99),
(-0.96,90),(-0.92,76),(-0.88,102),(-0.85,85),(-0.81,69),(-0.77,95),(-0.73,81),(-0.69,108),(-0.65,88),(-0.62,74),(-0.58,99),(-0.54,92),(-0.50,120),(-0.46,79),(-0.42,86),(-0.38,104),(-0.35,71),(-0.31,96),(-0.27,83),(-0.23,112),(-0.19,89),(-0.15,77),(-0.12,100),(-0.08,93),(-0.04,82),(-0.01,107),
(0.04,94),(0.08,80),(0.12,113),(0.15,87),(0.19,72),(0.23,101),(0.27,91),(0.31,84),(0.35,119),(0.38,76),(0.42,98),(0.46,86),(0.50,105),(0.54,68),(0.58,93),(0.62,111),(0.65,82),(0.69,97),(0.73,74),(0.77,90),(0.81,103),(0.85,85),(0.88,78),(0.92,95),(0.96,116),(0.99,81),
(1.04,88),(1.08,99),(1.12,75),(1.15,91),(1.19,83),(1.23,104),(1.27,70),(1.31,86),(1.35,94),(1.38,66),(1.42,80),(1.46,88),(1.50,72),(1.54,61),(1.58,77),(1.62,58),(1.65,66),(1.69,50),(1.73,57),(1.77,42),(1.81,49),(1.85,33),(1.88,40),(1.92,22),(1.96,27),(1.99,12),
(2.04,15),(2.08,4),(2.12,9),(2.15,-6),(2.19,12),(2.23,-14),(2.27,3),(2.31,18),(2.35,-9),(2.38,7),(2.42,-20),(2.46,1),(2.50,13),(2.54,-4),(2.58,22),(2.62,-11),(2.65,6),(2.69,-2),(2.73,16),(2.77,-17),(2.81,10),(2.85,0),(2.88,-25),(2.92,8),(2.96,19),(2.99,-7),
(3.04,11),(3.08,-3),(3.12,17),(3.15,-12),(3.19,5),(3.23,24),(3.27,-8),(3.31,0),(3.35,14),(3.38,-19),(3.42,7),(3.46,2),(3.50,-15),(3.54,20),(3.58,-5),(3.62,9),(3.65,-27),(3.69,13),(3.73,4),(3.77,-10),(3.81,18),(3.85,-1),(3.88,6),(3.92,-22),(3.96,12),(3.99,3),
(4.04,-6),(4.08,15),(4.12,1),(4.15,-18),(4.19,9),(4.23,21),(4.27,-11),(4.31,4),(4.35,-2),(4.38,13),(4.42,-24),(4.46,7),(4.50,17),(4.54,-8),(4.58,0),(4.62,26),(4.65,-14),(4.69,5),(4.73,11),(4.77,-5),(4.81,-20),(4.85,8),(4.88,14),(4.92,-1),(4.96,3),(4.99,-13),
(5.04,7),(5.08,-9),(5.12,19),(5.15,2),(5.19,-16),(5.23,12),(5.27,-4),(5.31,25),(5.35,-10),(5.38,6),(5.42,0),(5.46,-21),(5.50,14),(5.54,9),(5.58,-7),(5.62,18),(5.65,-2),(5.69,-28),(5.73,11),(5.77,4),(5.81,-13),(5.85,16),(5.88,1),(5.92,-6),(5.96,23),(5.99,-18),
(6.04,-3),(6.08,10),(6.12,-19),(6.15,16),(6.19,5),(6.23,-8),(6.27,22),(6.31,0),(6.35,-14),(6.38,12),(6.42,-1),(6.46,8),(6.50,-25),(6.54,19),(6.58,3),(6.62,-10),(6.65,14),(6.69,-5),(6.73,27),(6.77,-16),(6.81,6),(6.85,1),(6.88,-12),(6.92,17),(6.96,-4),(6.99,9),
(7.04,14),(7.08,-7),(7.12,3),(7.15,-20),(7.19,11),(7.23,20),(7.27,-2),(7.31,7),(7.35,-13),(7.38,1),(7.42,24),(7.46,-9),(7.50,16),(7.54,-4),(7.58,-18),(7.62,10),(7.65,5),(7.69,-26),(7.73,13),(7.77,0),(7.81,18),(7.85,-11),(7.88,8),(7.92,-3),(7.96,-15),(7.99,21),
(8.04,-2),(8.08,13),(8.12,-15),(8.15,6),(8.19,19),(8.23,-9),(8.27,2),(8.31,25),(8.35,-6),(8.38,10),(8.42,-21),(8.46,15),(8.50,1),(8.54,-12),(8.58,8),(8.62,22),(8.65,-4),(8.69,4),(8.73,-17),(8.77,12),(8.81,-1),(8.85,17),(8.88,-29),(8.92,9),(8.96,3),(8.99,-8),
(9.04,9),(9.08,-4),(9.12,16),(9.15,-11),(9.19,2),(9.23,20),(9.27,-16),(9.31,7),(9.35,-1),(9.38,13),(9.42,-23),(9.46,5),(9.50,11),(9.54,-7),(9.58,18),(9.62,0),(9.65,-14),(9.69,24),(9.73,3),(9.77,-9),(9.81,10),(9.85,-19),(9.88,15),(9.92,6),(9.96,-3),(9.99,12),
]

c_points = [
(-9.98,12),(-9.93,-25),(-9.89,5),(-9.84,-38),(-9.80,20),(-9.75,-8),(-9.71,31),(-9.66,-15),(-9.62,2),(-9.57,44),(-9.53,-30),(-9.48,9),(-9.44,-3),(-9.39,24),(-9.35,-19),(-9.30,14),(-9.26,-46),(-9.21,7),(-9.17,28),(-9.12,-11),(-9.08,17),(-9.03,-2),
(-8.98,-21),(-8.93,10),(-8.89,35),(-8.84,-6),(-8.80,-33),(-8.75,18),(-8.71,3),(-8.66,-14),(-8.62,26),(-8.57,-40),(-8.53,6),(-8.48,21),(-8.44,-10),(-8.39,50),(-8.35,-24),(-8.30,1),(-8.26,15),(-8.21,-29),(-8.17,8),(-8.12,38),(-8.08,-17),(-8.03,4),
(-7.98,19),(-7.93,-9),(-7.89,-36),(-7.84,13),(-7.80,27),(-7.75,-20),(-7.71,5),(-7.66,42),(-7.62,-13),(-7.57,0),(-7.53,-27),(-7.48,16),(-7.44,33),(-7.39,-7),(-7.35,9),(-7.30,-48),(-7.26,22),(-7.21,-4),(-7.17,12),(-7.12,-31),(-7.08,40),(-7.03,-15),
(-6.98,-5),(-6.93,25),(-6.89,-18),(-6.84,7),(-6.80,-41),(-6.75,14),(-6.71,36),(-6.66,-11),(-6.62,3),(-6.57,20),(-6.53,-34),(-6.48,11),(-6.44,-2),(-6.39,47),(-6.35,-23),(-6.30,8),(-6.26,30),(-6.21,-12),(-6.17,-38),(-6.12,17),(-6.08,2),(-6.03,23),
(-5.98,15),(-5.93,-30),(-5.89,4),(-5.84,37),(-5.80,-14),(-5.75,21),(-5.71,-3),(-5.66,-44),(-5.62,12),(-5.57,29),(-5.53,-19),(-5.48,6),(-5.44,53),(-5.39,-8),(-5.35,18),(-5.30,-26),(-5.26,1),(-5.21,33),(-5.17,-12),(-5.12,9),(-5.08,-37),(-5.03,26),
(-4.98,-16),(-4.93,8),(-4.89,24),(-4.84,-33),(-4.80,3),(-4.75,41),(-4.71,-10),(-4.66,17),(-4.62,-25),(-4.57,12),(-4.53,-1),(-4.48,31),(-4.44,-47),(-4.39,20),(-4.35,-7),(-4.30,14),(-4.26,38),(-4.21,-21),(-4.17,5),(-4.12,-13),(-4.08,27),(-4.03,-4),
(-3.98,21),(-3.93,-12),(-3.89,46),(-3.84,-6),(-3.80,-28),(-3.75,10),(-3.71,19),(-3.66,-39),(-3.62,7),(-3.57,2),(-3.53,32),(-3.48,-17),(-3.44,13),(-3.39,-43),(-3.35,25),(-3.30,-3),(-3.26,16),(-3.21,55),(-3.17,-24),(-3.12,8),(-3.08,-9),(-3.03,30),
(-2.98,-13),(-2.93,22),(-2.89,-30),(-2.84,8),(-2.80,35),(-2.75,-6),(-2.71,17),(-2.66,-22),(-2.62,4),(-2.57,28),(-2.53,-41),(-2.48,13),(-2.44,-8),(-2.39,15),(-2.35,38),(-2.30,48),(-2.26,90),(-2.21,150),(-2.17,205),(-2.12,250),(-2.08,240),(-2.03,320),
(-1.98,385),(-1.93,420),(-1.89,410),(-1.84,470),(-1.80,455),(-1.75,490),(-1.71,470),(-1.66,515),(-1.62,480),(-1.57,530),(-1.53,505),(-1.48,545),(-1.44,560),(-1.39,512),(-1.35,548),(-1.30,565),(-1.26,530),(-1.21,575),(-1.17,545),(-1.12,590),(-1.08,560),(-1.03,548),
(-0.98,590),(-0.93,556),(-0.89,602),(-0.84,580),(-0.80,565),(-0.75,615),(-0.71,592),(-0.66,620),(-0.62,573),(-0.57,598),(-0.53,635),(-0.48,658),(-0.44,612),(-0.39,575),(-0.35,640),(-0.30,603),(-0.26,590),(-0.21,628),(-0.17,580),(-0.12,655),(-0.08,612),(-0.03,600),
(0.02,680),(0.07,595),(0.11,620),(0.16,588),(0.20,640),(0.25,602),(0.29,575),(0.34,615),(0.38,597),(0.43,630),(0.47,583),(0.52,610),(0.56,568),(0.61,625),(0.65,592),(0.70,605),(0.74,578),(0.79,640),(0.83,586),(0.88,560),(0.92,600),(0.97,572),
(1.02,585),(1.07,550),(1.11,590),(1.16,545),(1.20,575),(1.25,540),(1.29,565),(1.34,525),(1.38,555),(1.43,510),(1.47,540),(1.52,520),(1.56,498),(1.61,525),(1.65,480),(1.70,492),(1.74,460),(1.79,445),(1.83,455),(1.88,410),(1.92,395),(1.97,345),
(2.02,290),(2.07,255),(2.11,215),(2.16,150),(2.20,125),(2.25,95),(2.29,75),(2.34,30),(2.38,40),(2.43,-2),(2.47,15),(2.52,28),(2.56,-12),(2.61,6),(2.65,-25),(2.70,18),(2.74,-35),(2.79,3),(2.83,22),(2.88,-18),(2.92,10),(2.97,-6),
(3.02,-20),(3.07,14),(3.11,32),(3.16,-9),(3.20,5),(3.25,-36),(3.29,19),(3.34,-3),(3.38,41),(3.43,-15),(3.47,8),(3.52,24),(3.56,-28),(3.61,2),(3.65,-44),(3.70,17),(3.74,30),(3.79,-11),(3.83,6),(3.88,-22),(3.92,12),(3.97,36),
(4.02,9),(4.07,-31),(4.11,18),(4.16,-5),(4.20,27),(4.25,-13),(4.29,3),(4.34,-48),(4.38,21),(4.43,13),(4.47,-8),(4.52,39),(4.56,-19),(4.61,7),(4.65,-2),(4.70,29),(4.74,-35),(4.79,15),(4.83,-12),(4.88,46),(4.92,1),(4.97,-24),
(5.02,-7),(5.07,22),(5.11,-40),(5.16,11),(5.20,34),(5.25,-16),(5.29,4),(5.34,-26),(5.38,16),(5.43,52),(5.47,-10),(5.52,2),(5.56,-33),(5.61,20),(5.65,-4),(5.70,26),(5.74,-19),(5.79,9),(5.83,38),(5.88,-29),(5.92,13),(5.97,-1),
(6.02,17),(6.07,-11),(6.11,6),(6.16,43),(6.20,-23),(6.25,10),(6.29,-37),(6.34,25),(6.38,-6),(6.43,14),(6.47,31),(6.52,-18),(6.56,1),(6.61,-47),(6.65,19),(6.70,8),(6.74,-14),(6.79,35),(6.83,-5),(6.88,23),(6.92,-30),(6.97,12),
(7.02,-26),(7.07,4),(7.11,20),(7.16,-12),(7.20,37),(7.25,-3),(7.29,-42),(7.34,16),(7.38,9),(7.43,-21),(7.47,28),(7.52,-7),(7.56,48),(7.61,-15),(7.65,3),(7.70,-33),(7.74,14),(7.79,25),(7.83,-9),(7.88,6),(7.92,-54),(7.97,19),
(8.02,11),(8.07,-17),(8.11,30),(8.16,-36),(8.20,2),(8.25,21),(8.29,-8),(8.34,44),(8.38,-24),(8.43,7),(8.47,-13),(8.52,34),(8.56,-2),(8.61,18),(8.65,-41),(8.70,9),(8.74,27),(8.79,-16),(8.83,5),(8.88,-29),(8.92,15),(8.97,39),
(9.02,-14),(9.07,24),(9.11,-5),(9.16,13),(9.20,-38),(9.25,31),(9.29,6),(9.34,-20),(9.38,18),(9.43,49),(9.47,-10),(9.52,3),(9.56,-27),(9.61,22),(9.65,-3),(9.70,35),(9.74,-46),(9.79,8),(9.83,16),(9.88,-18),(9.92,28),(9.97,2),
]

# binned means (blue) with errors
a_bin_time = [-9.46, -8.35, -7.25, -6.16, -5.15, -4.15, -3.12, -2.08, -1.05, 0.0, 1.03, 2.05, 3.08, 4.13, 5.13, 6.16, 7.18, 8.23, 9.30]
a_bin_depth = [-4.0, -4.0, 0.5, -0.2, 0.0, -4.5, 8.3, -3.2, 15.4, 16.6, 14.9, 1.5, -1.3, 2.8, 0.1, -4.9, 2.9, 2.3, 3.4]
a_bin_err = [3.2, 3.0, 3.0, 3.2, 3.0, 3.0, 2.6, 2.7, 2.9, 2.8, 3.0, 3.6, 2.8, 3.0, 3.0, 3.0, 2.8, 2.8, 3.0]

b_bin_time = [-9.62, -8.71, -7.78, -6.91, -5.98, -5.02, -4.04, -3.09, -2.10, -1.13, -0.14, 0.86, 1.84, 2.82, 3.81, 4.79, 5.77, 6.75, 7.73, 8.71, 9.69]
b_bin_depth = [-1.0, -2.3, -6.8, -1.3, -1.7, 1.7, 4.0, 6.4, 12.1, 84.8, 86.0, 88.4, 36.2, -6.2, 4.6, -3.5, 3.5, -3.5, -2.3, -7.5, 1.2]
b_bin_err = [3.5, 3.5, 3.5, 3.5, 3.5, 3.5, 3.5, 3.5, 4.4, 3.8, 3.6, 4.4, 4.4, 3.5, 3.5, 3.5, 3.5, 3.5, 3.5, 3.5, 3.5]

c_bin_time = [-9.66, -8.68, -7.70, -6.70, -5.74, -4.73, -3.75, -2.58, -1.57, -0.60, 0.40, 1.40, 2.42, 3.42, 4.42, 5.43, 6.45, 7.46, 8.46, 9.46]
c_bin_depth = [7.4, -1.7, 0.0, -8.6, -0.6, -5.0, 5.0, 9.8, 507, 585, 594, 527, 34, 3.4, -1.7, -1.7, 5.0, -8.6, -10.0, 1.7]
c_bin_err = [8, 8, 8, 8, 8, 8, 8, 15, 11.5, 9, 9, 9.5, 25, 8, 8, 8, 8, 8, 8, 8]

# transit model curves (red)
a_model_time = [-10, -1.86, -1.72, -1.59, -1.45, -1.30, -1.10, -0.70, 0.0, 0.70, 1.10, 1.30, 1.45, 1.59, 1.72, 1.86, 10]
a_model_depth = [0, 0, 3, 6, 9.5, 12.5, 14.5, 15.8, 16.8, 15.8, 14.5, 12.5, 9.5, 6, 3, 0, 0]

b_model_time = [-10, -2.18, -2.08, -1.97, -1.82, -1.67, -1.59, -1.52, -1.36, -1.06, -0.60, -0.07, 0.46, 1.07, 1.36, 1.52, 1.60, 1.68, 1.83, 1.98, 2.13, 2.21, 10]
b_model_depth = [0, 0, 5, 13, 32, 55, 65, 69, 75, 82, 88, 90, 89, 84, 78, 73, 67, 59, 40, 23, 3.5, 0, 0]

c_model_time = [-10, -2.43, -2.39, -2.31, -2.24, -2.13, -2.05, -1.96, -1.86, -1.74, -1.59, -1.36, -1.14, -0.83, -0.60, -0.30, 0.0, 0.23, 0.54, 0.84, 1.14, 1.37, 1.60, 1.71, 1.83, 1.90, 1.98, 2.06, 2.13, 2.21, 2.28, 2.36, 2.45, 2.52, 10]
c_model_depth = [0, 0, 6, 57, 143, 229, 315, 384, 441, 475, 504, 535, 556, 578, 590, 601, 607, 607, 601, 590, 567, 538, 504, 475, 441, 390, 327, 258, 190, 133, 75, 30, 6, 0, 0]

x_ticks = [-10, -5, 0, 5, 10]
a_yticks = [-60, -40, -20, 0, 20, 40, 60, 80]
b_yticks = [-50, 0, 50, 100, 150]
c_yticks = [0, 100, 200, 300, 400, 500, 600, 700]
panel_letters = ["a", "b", "c"]
y_label = "Transit depth (p.p.m.)"
x_label = "Time from mid-transit (h)"

# ---------------- figure ----------------
plt.rcParams['font.family'] = ['Liberation Sans', 'DejaVu Sans']
W, H = 1002, 1469
fig = plt.figure(figsize=(W / 100, H / 100), dpi=100)


def fx(px):
    return px / W


def fy(py):
    return 1 - py / H


navy = LinearSegmentedColormap.from_list('navy', ['#000514', '#05105a', '#0b1a8c'])
grad = np.linspace(0, 1, 256)[:, None]

bg = fig.add_axes([0, 0, 1, 1], zorder=-5)
bg.imshow(grad, cmap=navy, origin='lower', aspect='auto', extent=[0, 1, 0, 1])
bg.add_patch(Rectangle((fx(22), 0), fx(987) - fx(22), fy(6), color='white', zorder=2))
bg.set_xlim(0, 1)
bg.set_ylim(0, 1)
bg.set_axis_off()

left = fx(108)
width = fx(985) - fx(108)
ph = 466 / H
bottoms = [fy(472), fy(938), fy(1404)]
ylims = [(89.6, -70.2), (169.6, -99.2), (700, -101)]
yticks_list = [a_yticks, b_yticks, c_yticks]
points_list = [a_points + a_points_2, b_points + b_points_2, c_points]
bins_list = [(a_bin_time, a_bin_depth, a_bin_err), (b_bin_time, b_bin_depth, b_bin_err),
             (c_bin_time, c_bin_depth, c_bin_err)]
models_list = [(a_model_time, a_model_depth), (b_model_time, b_model_depth), (c_model_time, c_model_depth)]
letter_base = [28, 497, 960]

for i in range(3):
    ax = fig.add_axes([left, bottoms[i], width, ph])
    ax.set_facecolor('white')
    t, d = zip(*points_list[i])
    ax.plot(t, d, 'o', ms=3.6, color='#1a1a1a', mew=0, zorder=2)
    mt, md = models_list[i]
    ax.plot(mt, md, '-', color='#ee3124', lw=1.6, zorder=3)
    bt, bd, be = bins_list[i]
    ax.errorbar(bt, bd, yerr=be, fmt='none', ecolor='#4a8ad6', elinewidth=1.3,
                capsize=4.5, capthick=1.3, zorder=4)
    ax.plot(bt, bd, 'o', ms=10, mfc='#2c6bb4', mec='#1b3f70', mew=1.0, zorder=5)
    ax.set_xlim(-10, 10)
    ax.set_ylim(*ylims[i])
    ax.set_xticks(x_ticks)
    ax.set_yticks(yticks_list[i])
    for sp in ax.spines.values():
        sp.set_linewidth(1.5)
        sp.set_color('#3a3a3a')
    ax.tick_params(direction='in', length=6, width=1.0, color='#5a5a5a', top=True, right=True,
                   labelsize=15.5, labelcolor='#333333', pad=5.5)
    if i < 2:
        ax.tick_params(labelbottom=False)
    fig.text(fx(33), bottoms[i] + ph / 2, y_label, rotation=90, ha='center', va='center',
             fontsize=19, color='#333333')
    fig.text(fx(23), fy(letter_base[i]), panel_letters[i], fontweight='bold', fontsize=21,
             ha='left', va='baseline', color='#222222')

fig.text(fx(539), fy(1455), x_label, ha='center', va='center', fontsize=19, color='#333333')

# right navy strip drawn over the cut-off "10" label
rs = fig.add_axes([fx(987), 0, 1 - fx(987), 1], zorder=20)
rs.imshow(grad, cmap=navy, origin='lower', aspect='auto', extent=[0, 1, 0, 1])
rs.set_axis_off()

fig.savefig('out.png', dpi=100)
